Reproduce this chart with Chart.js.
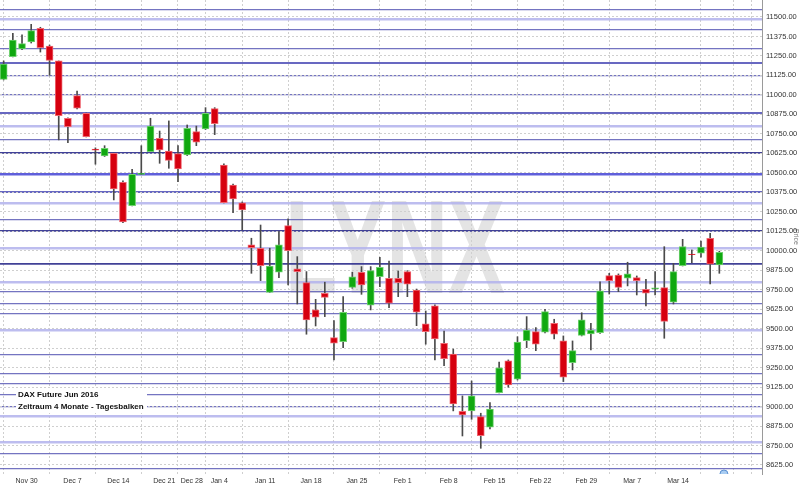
<!DOCTYPE html>
<html>
<head>
<meta charset="utf-8">
<script src="https://cdn.jsdelivr.net/npm/chart.js@4/dist/chart.umd.min.js"></script>
<style>
  html, body { margin: 0; padding: 0; background: #fff; }
  #wrap { width: 800px; height: 486px; position: relative; }
</style>
</head>
<body>
<div id="wrap"><canvas id="chart"></canvas></div>
<script>
// trading days (last four are empty future slots)
const days = ['Nov 25','Nov 26','Nov 27','Nov 30','Dec 1','Dec 2','Dec 3','Dec 4','Dec 7','Dec 8',
  'Dec 9','Dec 10','Dec 11','Dec 14','Dec 15','Dec 16','Dec 17','Dec 18','Dec 21','Dec 22',
  'Dec 23','Dec 28','Dec 29','Dec 30','Jan 4','Jan 5','Jan 6','Jan 7','Jan 8','Jan 11',
  'Jan 12','Jan 13','Jan 14','Jan 15','Jan 18','Jan 19','Jan 20','Jan 21','Jan 22','Jan 25',
  'Jan 26','Jan 27','Jan 28','Jan 29','Feb 1','Feb 2','Feb 3','Feb 4','Feb 5','Feb 8',
  'Feb 9','Feb 10','Feb 11','Feb 12','Feb 15','Feb 16','Feb 17','Feb 18','Feb 19','Feb 22',
  'Feb 23','Feb 24','Feb 25','Feb 26','Feb 29','Mar 1','Mar 2','Mar 3','Mar 4','Mar 7',
  'Mar 8','Mar 9','Mar 10','Mar 11','Mar 14','Mar 15','Mar 16','Mar 17','Mar 18',
  'Mar 21','Mar 22','Mar 23','Mar 24'];

const weekLabels = ['Nov 30','Dec 7','Dec 14','Dec 21','Dec 28','Jan 4','Jan 11','Jan 18','Jan 25',
  'Feb 1','Feb 8','Feb 15','Feb 22','Feb 29','Mar 7','Mar 14'];
const extraGrid = ['Mar 21','Mar 23'];

const open = [11100,11245,11295,11340,11427,11314,11218,10850,10995,10882,
  10653,10608,10625,10439,10289,10490,10636,10722,10640,10623,
  10614,10764,10781,10912,10550,10422,10308,10037,10016,9733,
  9862,10161,9883,9795,9620,9727,9442,9416,9765,9862,
  9650,9833,9823,9823,9866,9748,9530,9647,9406,9337,
  8970,8972,8935,8867,9089,9294,9175,9423,9481,9477,
  9534,9421,9282,9457,9466,9474,9840,9844,9823,9827,
  9752,9754,9763,9669,9904,9979,9985,10080,9909];
const high = [11218,11395,11385,11453,11434,11320,11218,10852,11025,10884,
  10660,10674,10627,10448,10523,10674,10850,10768,10833,10674,
  10807,10800,10918,10918,10557,10428,10313,10080,10165,10016,
  10122,10204,9962,9866,9688,9798,9551,9705,9862,9898,
  9898,9958,9934,9870,9872,9754,9613,9652,9485,9369,
  9068,9164,8957,9025,9286,9299,9448,9577,9506,9624,
  9560,9453,9421,9602,9534,9801,9855,9851,9926,9838,
  9817,9866,10026,9919,10073,10005,10062,10112,9997];
const low = [11096,11243,11291,11333,11275,11126,10711,10693,10910,10730,
  10555,10605,10326,10180,10287,10489,10634,10561,10529,10443,
  10611,10674,10778,10745,10306,10244,10133,9855,9808,9732,
  9827,9780,9658,9464,9517,9577,9299,9378,9759,9720,
  9620,9769,9634,9705,9705,9519,9400,9299,9262,8972,
  8811,8918,8732,8856,9087,9124,9170,9378,9359,9472,
  9434,9160,9235,9453,9363,9470,9722,9737,9774,9716,
  9645,9716,9438,9658,9902,9923,9958,9787,9855];
const close = [11198,11352,11329,11412,11303,11222,10867,10796,10914,10732,
  10645,10657,10396,10184,10490,10497,10800,10647,10580,10525,
  10786,10696,10882,10815,10308,10332,10262,10020,9904,9902,
  10037,10000,9866,9556,9573,9701,9406,9605,9833,9780,
  9872,9894,9663,9795,9785,9605,9480,9434,9307,9016,
  8946,9068,8813,8984,9249,9138,9413,9491,9400,9609,
  9464,9188,9359,9556,9491,9742,9808,9765,9851,9808,
  9727,9761,9547,9866,10026,9975,10024,9913,9990];

const priceTicks = [8625,8750,8875,9000,9125,9250,9375,9500,9625,9750,9875,10000,
  10125,10250,10375,10500,10625,10750,10875,11000,11125,11250,11375,11500];

// horizontal level lines drawn across the chart
const levels = [11549,11484,11417,11297,11202,11126,11000,10884,10800,10715,
  10625,10492,10377,10302,10202,10127,10016,9913,9795,9740,
  9663,9594,9487,9331,9209,9148,9074,9000,8935,8768,8700,8604];
const levelKind = ['n','l','n','n','t','n','n','t','l','n',
  'd','b','t','l','n','d','l','d','l','n',
  'n','n','l','n','n','n','n','n','l','l','n','n'];

const eventDays = ['Mar 21'];

const yMin = 8567, yMax = 11609;

const levelStyle = {
  n: { color: 'rgba(92,92,182,0.85)', width: 1.2 },
  d: { color: 'rgba(55,55,145,0.95)', width: 1.7 },
  l: { color: 'rgba(178,178,236,0.85)', width: 2.6 },
  t: { color: 'rgba(88,88,186,0.9)', width: 2 },
  b: { color: 'rgba(78,78,215,0.9)', width: 2.6 }
};

const FONT = '"Liberation Sans", Arial, sans-serif';
const up = close.map((c, i) => c >= open[i]);

const bodies = open.map((o, i) => ({ x: i + 0.5, y: [o, close[i]] }));
const wicks = open.map((o, i) => ({ x: i + 0.5, y: [low[i], high[i]] }));

// no extra room for edge labels
function noPad(s) {
  s.paddingLeft = 0; s.paddingRight = 0; s.paddingTop = 0; s.paddingBottom = 0;
}

const watermark = {
  id: 'watermark',
  beforeDraw(chart) {
    const ctx = chart.ctx;
    ctx.save();
    ctx.font = 'bold 134px ' + FONT;
    ctx.fillStyle = '#e4e4e4';
    ctx.textBaseline = 'alphabetic';
    const w = ctx.measureText('LYNX').width;
    ctx.translate(285, 293);
    ctx.scale(220 / w, 1);
    ctx.fillText('LYNX', 0, 0);
    ctx.restore();
  }
};

const infoBox = {
  id: 'infoBox',
  afterDatasetsDraw(chart) {
    const ctx = chart.ctx;
    ctx.save();
    ctx.fillStyle = '#fff';
    ctx.fillRect(16, 388, 131, 25);
    ctx.fillStyle = '#111';
    ctx.font = 'bold 8px ' + FONT;
    ctx.textBaseline = 'middle';
    ctx.fillText('DAX Future Jun 2016', 18, 395);
    ctx.fillText('Zeitraum 4 Monate - Tagesbalken', 18, 407);
    ctx.restore();
  }
};

new Chart(document.getElementById('chart'), {
  type: 'bar',
  data: {
    datasets: [
      {
        label: 'Wick',
        data: wicks,
        backgroundColor: '#4a4a4a',
        barThickness: 1,
        grouped: false,
        order: 3
      },
      {
        label: 'Body',
        data: bodies,
        backgroundColor: up.map(u => u ? '#10a810' : '#d6000f'),
        borderColor: up.map(u => u ? '#6fd06f' : '#ee6670'),
        borderWidth: 1,
        borderSkipped: false,
        barThickness: 7,
        grouped: false,
        order: 2
      },
      {
        type: 'scatter',
        label: 'Event',
        data: eventDays.map(d => ({ x: days.indexOf(d), y: yMin })),
        pointRadius: 4,
        backgroundColor: '#a9cdf2',
        borderColor: '#5b8fd0',
        borderWidth: 1,
        clip: 0,
        order: 1
      }
    ]
  },
  plugins: [watermark, infoBox],
  options: {
    responsive: true,
    maintainAspectRatio: false,
    animation: false,
    layout: { padding: 0, autoPadding: false },
    plugins: { legend: { display: false }, tooltip: { enabled: false } },
    scales: {
      x: {
        type: 'linear',
        min: 0.1,
        max: 83.15,
        offset: false,
        afterBuildTicks: s => {
          s.ticks = weekLabels.concat(extraGrid).map(d => ({ value: days.indexOf(d) }));
        },
        afterFit: s => { s.height = 12; noPad(s); },
        ticks: {
          autoSkip: false,
          maxRotation: 0,
          padding: 3,
          color: '#333',
          font: { size: 7, family: FONT },
          callback: v => weekLabels.includes(days[v]) ? days[v] : ''
        },
        grid: { color: '#cfcfcf', drawTicks: false },
        border: { display: false, dash: [2, 2] }
      },
      lv: {
        type: 'linear',
        position: 'left',
        min: yMin,
        max: yMax,
        afterBuildTicks: s => { s.ticks = levels.map(v => ({ value: v })); },
        afterFit: s => { s.width = 0; noPad(s); },
        ticks: { display: false },
        grid: {
          drawTicks: false,
          color: c => levelStyle[levelKind[c.index]].color,
          lineWidth: c => levelStyle[levelKind[c.index]].width
        },
        border: { display: false }
      },
      y: {
        type: 'linear',
        position: 'right',
        min: yMin,
        max: yMax,
        afterBuildTicks: s => { s.ticks = priceTicks.map(v => ({ value: v })); },
        afterFit: s => { s.width = 38; noPad(s); },
        ticks: {
          padding: 4,
          color: '#333',
          font: { size: 7.5, family: FONT },
          callback: v => v.toFixed(2)
        },
        grid: { color: '#cfcfcf', drawTicks: false },
        border: { display: true, color: '#9a9a9a', width: 1, dash: [2, 2] },
        title: {
          display: true,
          text: 'Price',
          color: '#777',
          padding: 0,
          font: { size: 7, family: FONT }
        }
      }
    }
  }
});
</script>
</body>
</html>
